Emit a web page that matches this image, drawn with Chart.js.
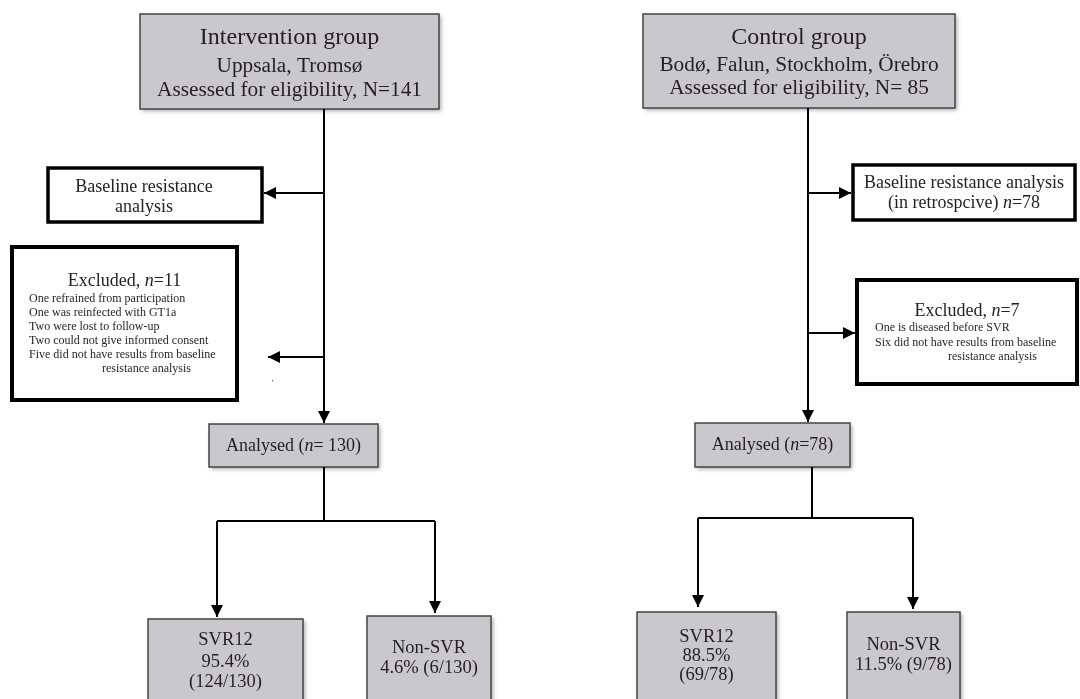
<!DOCTYPE html>
<html>
<head>
<meta charset="utf-8">
<script src="https://cdn.jsdelivr.net/npm/chart.js@4"></script>
<style>
  html, body { margin: 0; padding: 0; background: #fff; }
  #wrap { width: 1080px; height: 699px; position: relative; }
</style>
</head>
<body>
<div id="wrap"><canvas id="flow"></canvas></div>
<script>
// flow data
const groups = ['Intervention group', 'Control group'];
const sites = ['Uppsala, Tromsø', 'Bodø, Falun, Stockholm, Örebro'];
const assessed = ['141', ' 85'];
const baselineN = [null, 78];
const excludedN = [11, 7];
const excludedReasons = [
  ['One refrained from participation', 'One was reinfected with GT1a', 'Two were lost to follow-up',
   'Two could not give informed consent', 'Five did not have results from baseline', 'resistance analysis'],
  ['One is diseased before SVR', 'Six did not have results from baseline', 'resistance analysis']
];
const analysedN = [' 130', '78'];
const svrPct = ['95.4%', '88.5%'];
const svrCount = ['124/130', '69/78'];
const nonSvrPct = ['4.6%', '11.5%'];
const nonSvrCount = ['6/130', '9/78'];

// layout in canvas units (x 0..1080, y 0..699 from top)
const L = [
  { top: [140, 14, 439, 109], titleY: [38, 66, 90], trunkX: 324,
    base: [48, 168, 262, 222], baseTextX: 144, baseArrow: [193, 264], baseText: [187, 207],
    excl: [12, 247, 237, 400], exclArrow: [357, 268], exclTitleY: 281, exclLineY: 299, exclStep: 14, exclX: 29, exclIndentX: 102,
    ana: [209, 424, 378, 467], branchY: 521, legX: [217, 435], legEnd: [617, 613],
    svr: [148, 619, 303, 720], non: [367, 616, 491, 720], svrY: [640, 662, 682], nonY: [648, 668] },
  { top: [643, 14, 955, 108], titleY: [38, 65, 88], trunkX: 808,
    base: [853, 165, 1075, 220], baseTextX: 964, baseArrow: [193, 851], baseText: [183, 203],
    excl: [857, 280, 1077, 384], exclArrow: [333, 855], exclTitleY: 311, exclLineY: 328, exclStep: 14.5, exclX: 875, exclIndentX: 948,
    ana: [695, 423, 850, 467], branchY: 518, legX: [698, 913], legEnd: [607, 609],
    svr: [637, 612, 776, 720], non: [847, 612, 960, 720], svrY: [637, 656, 675], nonY: [645, 665] }
];

const SERIF = '"Liberation Serif", "DejaVu Serif", serif';
const INK = '#231f20';

// connectors: polylines ending in an arrow (or not)
const connectors = [];
L.forEach(function(g, i){
  connectors.push({ pts: [[g.trunkX, g.top[3]], [g.trunkX, g.ana[1] - 1]], arrow: true });
  connectors.push({ pts: [[g.trunkX, g.baseArrow[0]], [g.baseArrow[1], g.baseArrow[0]]], arrow: true });
  connectors.push({ pts: [[g.trunkX, g.exclArrow[0]], [g.exclArrow[1], g.exclArrow[0]]], arrow: true });
  const bx = i === 0 ? g.trunkX : 812;
  connectors.push({ pts: [[bx, g.ana[3]], [bx, g.branchY]], arrow: false });
  connectors.push({ pts: [[g.legX[0], g.branchY], [g.legX[1], g.branchY]], arrow: false });
  connectors.push({ pts: [[g.legX[0], g.branchY], [g.legX[0], g.legEnd[0]]], arrow: true });
  connectors.push({ pts: [[g.legX[1], g.branchY], [g.legX[1], g.legEnd[1]]], arrow: true });
});

function seg(text, italic){ return { text: text, italic: !!italic }; }

function drawRich(ctx, parts, x, y, size, align){
  let w = 0;
  parts.forEach(function(p){
    ctx.font = (p.italic ? 'italic ' : '') + size + 'px ' + SERIF;
    p.w = ctx.measureText(p.text).width;
    w += p.w;
  });
  let cx = align === 'left' ? x : x - w / 2;
  ctx.textAlign = 'left';
  ctx.textBaseline = 'middle';
  ctx.fillStyle = INK;
  parts.forEach(function(p){
    ctx.font = (p.italic ? 'italic ' : '') + size + 'px ' + SERIF;
    ctx.fillText(p.text, cx, y);
    cx += p.w;
  });
}

const flowPlugin = {
  id: 'flow',
  beforeDatasetsDraw(chart){
    const ctx = chart.ctx, sx = chart.scales.x, sy = chart.scales.y;
    function rect(r){
      const x0 = sx.getPixelForValue(r[0]), y0 = sy.getPixelForValue(r[1]);
      const x1 = sx.getPixelForValue(r[2]), y1 = sy.getPixelForValue(r[3]);
      return [x0, y0, x1 - x0, y1 - y0];
    }
    function grayBox(r){
      const b = rect(r);
      ctx.save();
      ctx.shadowColor = 'rgba(0,0,0,0.35)';
      ctx.shadowBlur = 4;
      ctx.shadowOffsetX = 2;
      ctx.shadowOffsetY = 2;
      ctx.fillStyle = '#c9c9cb';
      ctx.fillRect(b[0], b[1], b[2], b[3]);
      ctx.restore();
      ctx.save();
      ctx.strokeStyle = '#444';
      ctx.lineWidth = 1.5;
      ctx.strokeRect(b[0], b[1], b[2], b[3]);
      ctx.restore();
    }
    function whiteBox(r, lw){
      const b = rect(r);
      ctx.save();
      ctx.fillStyle = '#fff';
      ctx.fillRect(b[0], b[1], b[2], b[3]);
      ctx.strokeStyle = '#000';
      ctx.lineWidth = lw;
      ctx.strokeRect(b[0], b[1], b[2], b[3]);
      ctx.restore();
    }
    L.forEach(function(g){
      grayBox(g.top);
      whiteBox(g.base, 3.5);
      whiteBox(g.excl, 4);
      grayBox(g.ana);
      grayBox(g.svr);
      grayBox(g.non);
    });
  },
  afterDatasetsDraw(chart){
    const ctx = chart.ctx, sx = chart.scales.x, sy = chart.scales.y;
    const px = function(v){ return sx.getPixelForValue(v); };
    const py = function(v){ return sy.getPixelForValue(v); };

    // arrowheads
    connectors.forEach(function(c){
      if (!c.arrow) return;
      const a = c.pts[c.pts.length - 2], b = c.pts[c.pts.length - 1];
      const ax = px(a[0]), ay = py(a[1]), bx = px(b[0]), by = py(b[1]);
      const ang = Math.atan2(by - ay, bx - ax);
      const len = 12, hw = 6;
      ctx.save();
      ctx.translate(bx, by);
      ctx.rotate(ang);
      ctx.beginPath();
      ctx.moveTo(0, 0);
      ctx.lineTo(-len, -hw);
      ctx.lineTo(-len, hw);
      ctx.closePath();
      ctx.fillStyle = '#000';
      ctx.fill();
      ctx.restore();
    });

    // stray dot under the left exclusion arrow, as in the source
    ctx.fillStyle = '#555';
    ctx.fillRect(px(272), py(380), 1.2, 1.2);

    L.forEach(function(g, i){
      const tx = px((g.top[0] + g.top[2]) / 2);
      drawRich(ctx, [seg(groups[i])], tx, py(g.titleY[0]), 24);
      drawRich(ctx, [seg(sites[i])], tx, py(g.titleY[1]), 21.3);
      drawRich(ctx, [seg('Assessed for eligibility, N=' + assessed[i])], tx, py(g.titleY[2]), 21.3);

      const bx = px(g.baseTextX);
      if (baselineN[i] === null){
        drawRich(ctx, [seg('Baseline resistance')], bx, py(g.baseText[0]), 18);
        drawRich(ctx, [seg('analysis')], bx, py(g.baseText[1]), 18);
      } else {
        drawRich(ctx, [seg('Baseline resistance analysis')], bx, py(g.baseText[0]), 18);
        drawRich(ctx, [seg('(in retrospcive) '), seg('n', true), seg('=' + baselineN[i])], bx, py(g.baseText[1]), 18);
      }

      const ex = px((g.excl[0] + g.excl[2]) / 2);
      drawRich(ctx, [seg('Excluded, '), seg('n', true), seg('=' + excludedN[i])], ex, py(g.exclTitleY), 18);
      const reasons = excludedReasons[i];
      reasons.forEach(function(r, k){
        const last = k === reasons.length - 1;
        drawRich(ctx, [seg(r)], px(last ? g.exclIndentX : g.exclX), py(g.exclLineY + k * g.exclStep), 12, 'left');
      });

      const ax = px((g.ana[0] + g.ana[2]) / 2);
      drawRich(ctx, [seg('Analysed ('), seg('n', true), seg('=' + analysedN[i] + ')')], ax, py((g.ana[1] + g.ana[3]) / 2 + 0.5), 18);

      const sxm = px((g.svr[0] + g.svr[2]) / 2);
      drawRich(ctx, [seg('SVR12')], sxm, py(g.svrY[0]), 18.5);
      drawRich(ctx, [seg(svrPct[i])], sxm, py(g.svrY[1]), 18.5);
      drawRich(ctx, [seg('(' + svrCount[i] + ')')], sxm, py(g.svrY[2]), 18.5);

      const nxm = px((g.non[0] + g.non[2]) / 2);
      drawRich(ctx, [seg('Non-SVR')], nxm, py(g.nonY[0]), 18.5);
      drawRich(ctx, [seg(nonSvrPct[i] + ' (' + nonSvrCount[i] + ')')], nxm, py(g.nonY[1]), 18.5);
    });
  }
};

new Chart('flow', {
  type: 'scatter',
  data: {
    datasets: connectors.map(function(c){
      return {
        data: c.pts.map(function(p){ return { x: p[0], y: p[1] }; }),
        showLine: true,
        borderColor: '#000',
        borderWidth: 2,
        pointRadius: 0,
        fill: false
      };
    })
  },
  options: {
    responsive: true,
    maintainAspectRatio: false,
    animation: false,
    layout: { padding: 0 },
    scales: {
      x: { type: 'linear', min: 0, max: 1080, display: false },
      y: { type: 'linear', min: 0, max: 699, reverse: true, display: false }
    },
    plugins: {
      legend: { display: false },
      tooltip: { enabled: false },
      title: { display: false }
    },
    events: []
  },
  plugins: [flowPlugin]
});
</script>
</body>
</html>
